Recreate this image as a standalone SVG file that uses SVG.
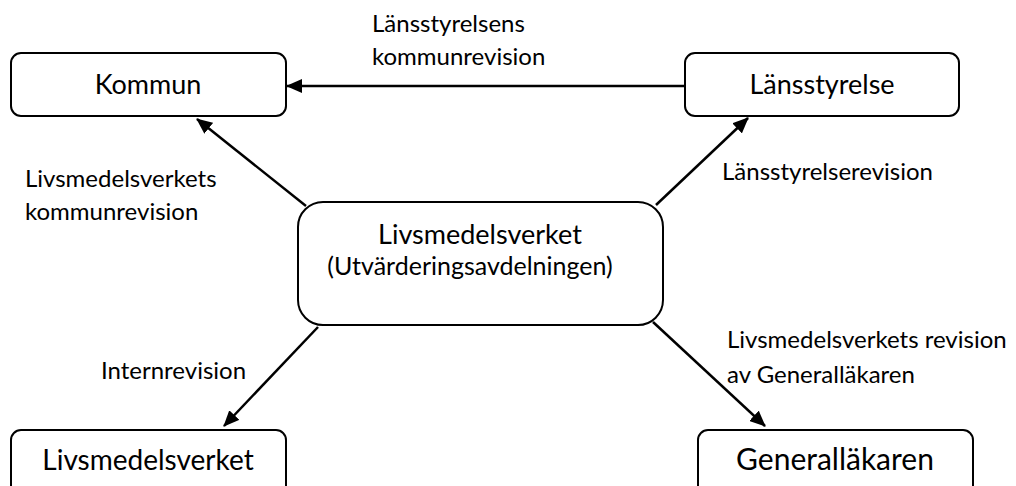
<svg xmlns="http://www.w3.org/2000/svg" width="1016" height="486" viewBox="0 0 1016 486">
<defs>
<marker id="ah" markerWidth="16" markerHeight="14" refX="15" refY="7" orient="auto" markerUnits="userSpaceOnUse">
<path d="M0,0 L16,7 L0,14 Z" fill="#000"/>
</marker>
<style>
.box{fill:#fff;stroke:#000;stroke-width:2}
.t{font-family:Lato,"Liberation Sans",sans-serif;fill:#000}
.bt{font-size:27px;text-anchor:middle}
.lb{font-size:24px}
.c{stroke:#000;stroke-width:2.5;fill:none;marker-end:url(#ah)}
</style>
</defs>
<rect width="1016" height="486" fill="#fff"/>
<g id="connectors">
<line class="c" x1="685" y1="86" x2="287" y2="86"/>
<line class="c" x1="306" y1="206" x2="197" y2="119"/>
<line class="c" x1="656" y1="205" x2="748" y2="118"/>
<line class="c" x1="318" y1="327" x2="224" y2="426"/>
<line class="c" x1="653" y1="322" x2="765" y2="426"/>
</g>
<g id="labels" class="t lb">
<text x="372" y="32">Länsstyrelsens</text>
<text x="372" y="65">kommunrevision</text>
<text x="25" y="187">Livsmedelsverkets</text>
<text x="25" y="220">kommunrevision</text>
<text x="722" y="180">Länsstyrelserevision</text>
<text x="101" y="379">Internrevision</text>
<text x="727" y="348">Livsmedelsverkets revision</text>
<text x="727" y="383">av Generalläkaren</text>
</g>
<g id="kommun">
<rect class="box" x="11" y="53" width="275" height="63" rx="10"/>
<text class="t bt" x="148" y="94">Kommun</text>
</g>
<g id="lansstyrelse">
<rect class="box" x="685" y="53" width="274" height="63" rx="10"/>
<text class="t bt" x="822" y="94">Länsstyrelse</text>
</g>
<g id="center">
<rect class="box" x="298" y="202" width="365" height="123" rx="25"/>
<text class="t bt" x="480" y="244">Livsmedelsverket</text>
<text class="t bt" x="470" y="275" style="font-size:25px">(Utvärderingsavdelningen)</text>
</g>
<g id="livsmedelsverket">
<rect class="box" x="11" y="430" width="275" height="70" rx="10"/>
<text class="t bt" x="148" y="470" style="font-size:28px">Livsmedelsverket</text>
</g>
<g id="generallakaren">
<rect class="box" x="698" y="430" width="275" height="70" rx="10"/>
<text class="t bt" x="835" y="470" style="font-size:30px">Generalläkaren</text>
</g>
</svg>
